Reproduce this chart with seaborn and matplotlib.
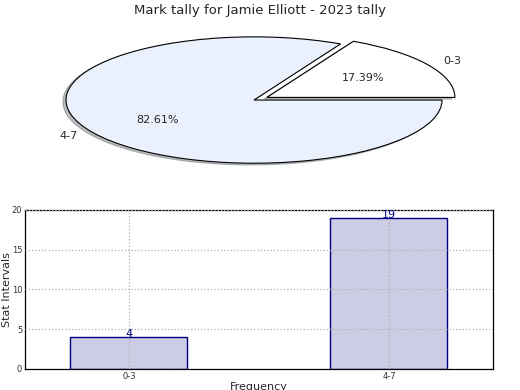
import numpy as np
import pandas as pd
import seaborn as sns
import matplotlib
matplotlib.use('Agg')
import matplotlib.pyplot as plt

# data
intervals = ['0-3', '4-7']
counts = [4, 19]
pie_colors = ['#ffffff', '#eaf1fd']

sns.set_style('white')
plt.rcParams['font.family'] = ['DejaVu Sans']

fig = plt.figure(figsize=(5.2, 3.9), dpi=100)

# pie on top, not forced to equal aspect so it comes out stretched
pie_ax = fig.add_axes([0.0365, 0.541, 0.904, 0.405])
pie_ax.pie(counts, labels=intervals, colors=pie_colors, autopct='%.2f%%',
           explode=[0.08, 0], shadow={'ox': -0.012, 'oy': -0.02, 'shade': 0.5},
           startangle=0,
           wedgeprops={'edgecolor': 'black', 'linewidth': 0.8},
           textprops={'fontsize': 8})
pie_ax.set_aspect('auto')
fig.suptitle('Mark tally for Jamie Elliott - 2023 tally', fontsize=9.5, y=0.99)

# bar chart below
bar_ax = fig.add_axes([0.048, 0.054, 0.9, 0.408])
df = pd.DataFrame({'interval': intervals, 'count': counts})
sns.barplot(data=df, x='interval', y='count', color='#ccccE5', edgecolor='navy',
            linewidth=1, width=0.45, saturation=1, ax=bar_ax)

for i, c in enumerate(counts):
    bar_ax.text(i, c, str(c), ha='center', va='baseline', color='navy', fontsize=8)

bar_ax.set_xlim(-0.4, 1.4)
bar_ax.set_ylim(0, 20)
bar_ax.set_yticks([0, 5, 10, 15, 20])
bar_ax.set_axisbelow(False)
bar_ax.grid(True, color='#b0b0b0', linestyle=':', linewidth=0.9)
bar_ax.tick_params(labelsize=6, direction='in', length=3, colors='#333333', pad=2)
for s in bar_ax.spines.values():
    s.set_visible(True)
    s.set_color('black')
    s.set_linewidth(0.9)
bar_ax.set_xlabel('Frequency', fontsize=8, labelpad=1)
bar_ax.set_ylabel('Stat Intervals', fontsize=8, labelpad=0)

fig.savefig('out.png', dpi=100)
